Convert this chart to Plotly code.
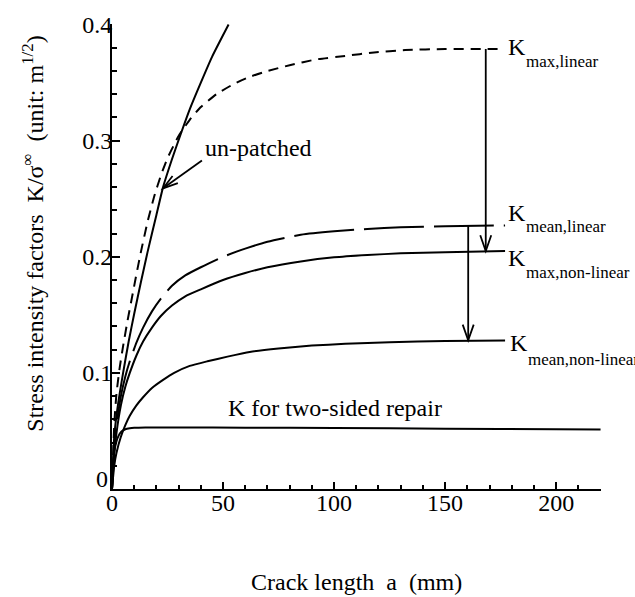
import plotly.graph_objects as go
import math

# ---------------- data ----------------
a_unpatched = [0, 1, 2.5, 5, 7.5, 10, 13, 16, 20, 23, 27, 31, 35, 40, 45, 52.5]
k_unpatched = [0, 0.045, 0.07, 0.1, 0.127, 0.151, 0.178, 0.204, 0.236, 0.26, 0.284, 0.306, 0.327, 0.35, 0.372, 0.4]

a_max_lin = [0, 1, 2, 3.5, 5, 7, 9, 11, 13, 16, 19, 22, 25, 30, 35, 40, 47, 55, 62, 70, 80, 92, 105, 118, 132, 150, 176.5]
k_max_lin = [0, 0.055, 0.082, 0.105, 0.123, 0.145, 0.165, 0.185, 0.204, 0.23, 0.252, 0.27, 0.285, 0.304, 0.318, 0.329, 0.34, 0.349, 0.355, 0.36, 0.365, 0.37, 0.373, 0.376, 0.378, 0.379, 0.379]

a_mean_lin = [0, 1, 2, 4, 6, 8, 11, 14, 18, 22, 27, 33, 40, 50, 60, 70, 85, 100, 115, 130, 150, 177]
k_mean_lin = [0, 0.035, 0.055, 0.08, 0.097, 0.11, 0.126, 0.139, 0.153, 0.164, 0.175, 0.184, 0.191, 0.2, 0.207, 0.213, 0.219, 0.222, 0.224, 0.2255, 0.2263, 0.227]

a_max_nl = [0, 1, 2, 4, 6, 8, 11, 14, 18, 22, 27, 33, 40, 50, 60, 70, 85, 100, 115, 130, 150, 177]
k_max_nl = [0, 0.03, 0.048, 0.072, 0.088, 0.1, 0.115, 0.127, 0.139, 0.149, 0.158, 0.166, 0.172, 0.18, 0.186, 0.191, 0.196, 0.1995, 0.2015, 0.203, 0.204, 0.205]

a_mean_nl = [0, 1, 2, 4, 6, 8, 11, 14, 18, 23, 28, 35, 43, 52, 62, 75, 90, 105, 125, 150, 177]
k_mean_nl = [0, 0.02, 0.031, 0.045, 0.055, 0.063, 0.072, 0.079, 0.087, 0.094, 0.1, 0.106, 0.11, 0.114, 0.118, 0.121, 0.1235, 0.125, 0.1265, 0.1275, 0.128]

a_two = [0, 0.5, 1, 2, 3, 4, 5, 6, 8, 10, 15, 30, 60, 100, 150, 200, 220]
k_two = [0, 0.022, 0.032, 0.041, 0.046, 0.049, 0.0505, 0.0515, 0.0523, 0.0527, 0.053, 0.053, 0.0528, 0.0525, 0.052, 0.0515, 0.0513]

x_ticks = [0, 50, 100, 150, 200]
y_ticks = [0, 0.1, 0.2, 0.3, 0.4]
y_ticktext = ["", "0.1", "0.2", "0.3", "0.4"]   # the "0" is placed separately, nudged up as in the original

# ---------------- figure ----------------
FONT = "Liberation Serif"
LW = 2

fig = go.Figure()

def curve(x, y, dash="solid"):
    fig.add_trace(go.Scatter(x=x, y=y, mode="lines",
                             line=dict(color="black", width=LW, dash=dash, shape="spline", smoothing=0.5),
                             showlegend=False, hoverinfo="skip", cliponaxis=False))

curve(a_unpatched, k_unpatched)
curve(a_max_lin, k_max_lin, "10px,7px")
curve(a_mean_lin, k_mean_lin, "60px,10px")
curve(a_max_nl, k_max_nl)
curve(a_mean_nl, k_mean_nl)
curve(a_two, k_two)

# pixel scale for arrowhead geometry
X_RANGE = [0, 220.2]
Y_RANGE = [0, 0.4005]
W, H = 635, 597
ML, MR, MT, MB = 112, 34, 17, 108
SX = (W - ML - MR) / (X_RANGE[1] - X_RANGE[0])
SY = (H - MT - MB) / (Y_RANGE[1] - Y_RANGE[0])

shapes = []

def arrow(tail, tip, length=16, half=5.5, width=1.8):
    shapes.append(dict(type="line", xref="x", yref="y", x0=tail[0], y0=tail[1], x1=tip[0], y1=tip[1],
                       line=dict(color="black", width=width)))
    dx = (tail[0] - tip[0]) * SX
    dy = (tail[1] - tip[1]) * SY
    n = math.hypot(dx, dy)
    ux, uy = dx / n, dy / n
    px, py = -uy, ux
    p1 = (tip[0] + (ux * length + px * half) / SX, tip[1] + (uy * length + py * half) / SY)
    p2 = (tip[0] + (ux * length - px * half) / SX, tip[1] + (uy * length - py * half) / SY)
    shapes.append(dict(type="path", xref="x", yref="y",
                       path=f"M {p1[0]},{p1[1]} L {tip[0]},{tip[1]} L {p2[0]},{p2[1]}",
                       line=dict(color="black", width=width)))

arrow((168.3, k_max_lin[-1]), (168.3, k_max_nl[-1]))
arrow((160.4, k_mean_lin[-1]), (160.4, k_mean_nl[-1]))
arrow((40.5, 0.283), (23, 0.259), length=15, half=4.5)

ann = []
def txt(x, y, s, size=24, xanchor="center", yanchor="middle"):
    ann.append(dict(x=x, y=y, xref="x", yref="y", text=s, showarrow=False,
                    font=dict(family=FONT, size=size, color="black"),
                    xanchor=xanchor, yanchor=yanchor))

txt(66.1, 0.294, "un-patched")
txt(100.3, 0.0695, "K for two-sided repair")

labels = [
    ("max,linear", 0.3805, 0.3684, 177.5),
    ("mean,linear", 0.2373, 0.226, 177.5),
    ("max,non-linear", 0.1992, 0.1862, 177.5),
    ("mean,non-linear", 0.1254, 0.1116, 178.3),
]
for sub, yk, ys, xk in labels:
    txt(xk, yk, "K", size=24, xanchor="left")
    txt(xk + 8.0, ys, sub, size=17, xanchor="left")

# y-axis "0" label, nudged upward
ann.append(dict(x=-0.004, y=0.009, xref="paper", yref="y", text="0", showarrow=False,
                font=dict(family=FONT, size=24, color="black"), xanchor="right", yanchor="middle"))

# axis titles
ann.append(dict(x=0.499, y=-0.199, xref="paper", yref="paper", showarrow=False,
                text="Crack length\u00a0 a\u00a0 (mm)", font=dict(family=FONT, size=24, color="black"),
                xanchor="center", yanchor="middle"))
ann.append(dict(x=-0.1616, y=0.549, xref="paper", yref="paper", showarrow=False, textangle=-90,
                text="Stress intensity factors\u00a0 K/σ<sup>∞</sup>\u00a0 (unit: m<sup>1/2</sup>)",
                font=dict(family=FONT, size=24, color="black"),
                xanchor="center", yanchor="middle"))

fig.update_layout(
    width=W, height=H,
    margin=dict(l=ML, r=MR, t=MT, b=MB),
    paper_bgcolor="white", plot_bgcolor="white",
    shapes=shapes, annotations=ann,
    font=dict(family=FONT, size=24, color="black"),
    xaxis=dict(range=X_RANGE, showgrid=False, zeroline=False, showline=True, linecolor="black", linewidth=2,
               ticks="inside", ticklen=7, tickwidth=1.5, tickcolor="black",
               tickvals=x_ticks, ticktext=[str(v) for v in x_ticks],
               ticklabelstandoff=-9,
               tickfont=dict(family=FONT, size=24, color="black"),
               minor=dict(dtick=10, tick0=0, ticks="inside", ticklen=4, tickwidth=1.5, tickcolor="black")),
    yaxis=dict(range=Y_RANGE, showgrid=False, zeroline=False, showline=True, linecolor="black", linewidth=2,
               ticks="inside", ticklen=8, tickwidth=1.5, tickcolor="black",
               tickvals=y_ticks, ticktext=y_ticktext,
               ticklabelstandoff=-7,
               tickfont=dict(family=FONT, size=24, color="black"),
               minor=dict(dtick=0.02, tick0=0, ticks="inside", ticklen=5, tickwidth=1.5, tickcolor="black")),
)

fig.write_html("out.html")
